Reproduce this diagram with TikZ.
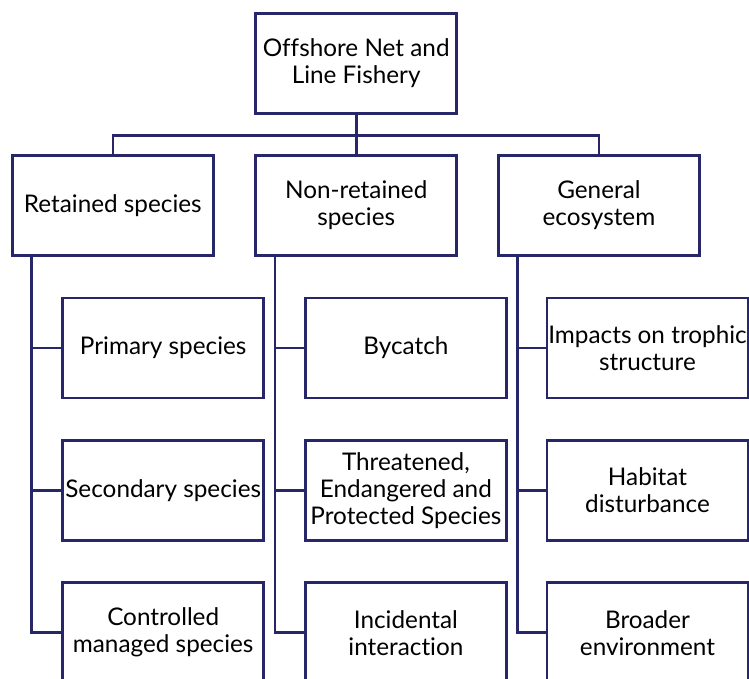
\documentclass[tikz,border=0pt]{standalone}
\usepackage{fontspec}
\setmainfont{Lato}[Ligatures=NoCommon]
\usetikzlibrary{calc}
\definecolor{navy}{RGB}{38,38,105}
\begin{document}
\begin{tikzpicture}[x=1pt,y=-1pt,
  box/.style={draw=navy,line width=2.6pt,fill=white,minimum width=201pt,minimum height=100pt,
    align=center,inner sep=0pt,font=\fontsize{24.3}{27}\selectfont,text=black},
  link/.style={draw=navy,line width=2.6pt,line join=miter}]
\useasboundingbox (0,0) rectangle (749,679);
\begin{scope}
\clip (0,0) rectangle (749,679);
\node[box] (top) at (356.2,63.5) {Offshore Net and\\Line Fishery};
\node[box] (b1) at (112.8,205.5) {Retained species};
\node[box] (b2) at (356.2,205.5) {Non-retained\\species};
\node[box] (b3) at (598.9,205.5) {General\\ecosystem};
\node[box] (c11) at (163.2,348) {Primary species};
\node[box] (c12) at (163.2,490.4) {Secondary species};
\node[box] (c13) at (163.2,632.7) {Controlled\\managed species};
\node[box] (c21) at (405.9,348) {Bycatch};
\node[box] (c22) at (405.9,490.4) {Threatened,\\Endangered and\\Protected Species};
\node[box] (c23) at (405.9,632.7) {Incidental\\interaction};
\node[box] (c31) at (647.5,348) {Impacts on trophic\\structure};
\node[box] (c32) at (647.5,490.4) {Habitat\\disturbance};
\node[box] (c33) at (647.5,632.7) {Broader\\environment};
\coordinate (bus) at ($(top.south)+(0,20.5)$);
\draw[link] (top.south) -- (b2.north);
\draw[link] (b1.north) |- (bus) -| (b3.north);
\coordinate (s1) at ($(b1.south west)+(20.5,0)$);
\coordinate (s2) at ($(b2.south west)+(20.5,0)$);
\coordinate (s3) at ($(b3.south west)+(20.5,0)$);
\draw[link] (s1) |- (c13.west);
\draw[link] (s1|-c11.west) -- (c11.west);
\draw[link] (s1|-c12.west) -- (c12.west);
\draw[link] (s2) |- (c23.west);
\draw[link] (s2|-c21.west) -- (c21.west);
\draw[link] (s2|-c22.west) -- (c22.west);
\draw[link] (s3) |- (c33.west);
\draw[link] (s3|-c31.west) -- (c31.west);
\draw[link] (s3|-c32.west) -- (c32.west);
\end{scope}
\end{tikzpicture}
\end{document}
